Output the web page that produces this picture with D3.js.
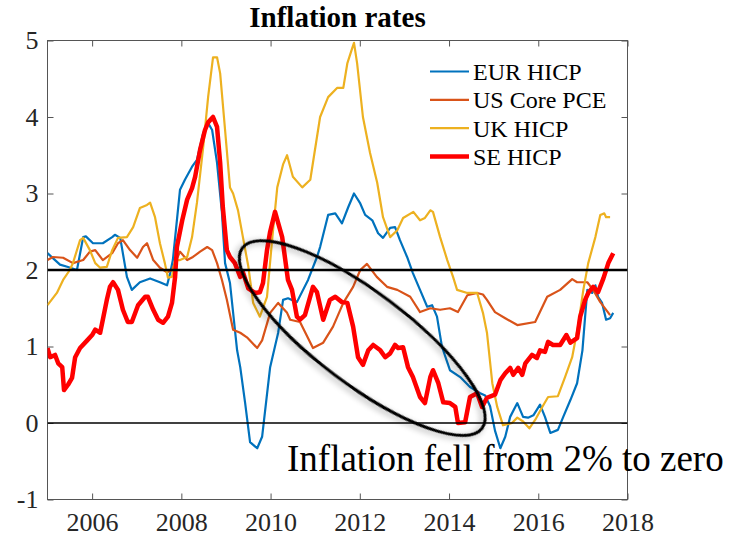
<!DOCTYPE html>
<html>
<head>
<meta charset="utf-8">
<script src="https://cdn.jsdelivr.net/npm/d3@7"></script>
<style>
  body { margin: 0; background: #fff; }
  text { font-family: "Liberation Serif", "Times New Roman", serif; }
</style>
</head>
<body>
<div id="chart"></div>
<script>
// series: [year, percent]
const eurHicp = [[2005.00,2.22],[2005.28,2.07],[2005.46,2.04],[2005.66,2.00],[2005.80,2.43],[2005.86,2.44],[2006.02,2.35],[2006.24,2.35],[2006.45,2.43],[2006.51,2.46],[2006.63,2.42],[2006.78,1.91],[2006.89,1.74],[2007.07,1.84],[2007.30,1.89],[2007.52,1.84],[2007.68,1.80],[2007.75,1.96],[2007.81,2.13],[2007.97,3.05],[2008.08,3.18],[2008.24,3.35],[2008.35,3.44],[2008.49,3.79],[2008.60,3.92],[2008.69,3.83],[2008.80,3.40],[2008.91,2.75],[2008.98,2.09],[2009.09,1.83],[2009.25,0.95],[2009.32,0.73],[2009.43,0.26],[2009.54,-0.25],[2009.70,-0.33],[2009.81,-0.18],[2009.99,0.73],[2010.17,1.18],[2010.28,1.61],[2010.39,1.63],[2010.59,1.58],[2010.84,1.87],[2011.04,2.17],[2011.11,2.30],[2011.29,2.72],[2011.45,2.74],[2011.60,2.61],[2011.74,2.82],[2011.87,3.00],[2012.01,2.87],[2012.12,2.72],[2012.28,2.65],[2012.41,2.48],[2012.52,2.42],[2012.68,2.55],[2012.79,2.56],[2012.90,2.39],[2013.06,2.17],[2013.19,1.96],[2013.35,1.74],[2013.51,1.52],[2013.62,1.54],[2013.73,1.39],[2013.84,1.00],[2014.02,0.69],[2014.25,0.60],[2014.47,0.47],[2014.70,0.39],[2014.81,0.36],[2014.92,0.22],[2015.03,-0.10],[2015.15,-0.33],[2015.26,-0.18],[2015.37,0.08],[2015.53,0.26],[2015.66,0.08],[2015.77,0.07],[2015.89,0.10],[2016.04,0.24],[2016.15,0.08],[2016.27,-0.13],[2016.44,-0.09],[2016.56,0.08],[2016.72,0.30],[2016.87,0.52],[2016.99,0.95],[2017.05,1.39],[2017.10,1.74],[2017.21,1.70],[2017.28,1.80],[2017.34,1.65],[2017.43,1.57],[2017.52,1.35],[2017.61,1.37],[2017.68,1.44]]

const usCorePce = [[2005.00,2.13],[2005.12,2.17],[2005.35,2.16],[2005.57,2.09],[2005.80,2.13],[2005.95,2.24],[2006.07,2.26],[2006.24,2.13],[2006.45,2.22],[2006.58,2.35],[2006.69,2.39],[2006.85,2.26],[2007.01,2.16],[2007.14,2.30],[2007.23,2.35],[2007.37,2.13],[2007.52,2.03],[2007.68,1.97],[2007.79,2.00],[2007.97,2.24],[2008.13,2.13],[2008.26,2.17],[2008.42,2.24],[2008.58,2.30],[2008.69,2.26],[2008.80,2.09],[2008.91,1.87],[2009.02,1.61],[2009.16,1.22],[2009.32,1.18],[2009.47,1.12],[2009.70,0.98],[2009.81,1.08],[2009.99,1.44],[2010.17,1.57],[2010.37,1.44],[2010.44,1.35],[2010.66,1.32],[2010.95,0.98],[2011.18,1.05],[2011.40,1.26],[2011.63,1.57],[2011.85,1.78],[2012.01,2.00],[2012.16,2.08],[2012.38,1.91],[2012.61,1.78],[2012.84,1.74],[2013.13,1.65],[2013.35,1.45],[2013.58,1.50],[2013.80,1.48],[2014.02,1.50],[2014.20,1.45],[2014.41,1.67],[2014.63,1.70],[2014.76,1.68],[2014.85,1.61],[2015.03,1.45],[2015.26,1.37],[2015.53,1.28],[2015.93,1.32],[2016.20,1.65],[2016.49,1.74],[2016.76,1.88],[2016.87,1.84],[2017.10,1.84],[2017.23,1.74],[2017.39,1.58],[2017.61,1.41]]

const ukHicp = [[2005.00,1.54],[2005.21,1.70],[2005.35,1.87],[2005.50,2.00],[2005.57,2.09],[2005.73,2.39],[2005.80,2.42],[2005.95,2.26],[2006.07,2.09],[2006.18,2.03],[2006.33,2.04],[2006.45,2.26],[2006.58,2.42],[2006.78,2.43],[2006.92,2.56],[2007.07,2.81],[2007.23,2.85],[2007.30,2.88],[2007.41,2.69],[2007.52,2.35],[2007.63,2.09],[2007.70,1.90],[2007.79,1.91],[2007.86,2.13],[2007.97,2.13],[2008.13,2.17],[2008.24,2.43],[2008.35,2.88],[2008.49,3.61],[2008.60,4.26],[2008.71,4.78],[2008.80,4.78],[2008.87,4.57],[2008.98,3.83],[2009.09,3.08],[2009.16,3.00],[2009.27,2.78],[2009.38,2.43],[2009.50,2.05],[2009.61,1.57],[2009.76,1.39],[2009.92,1.65],[2010.04,2.43],[2010.15,3.08],[2010.28,3.38],[2010.37,3.50],[2010.50,3.22],[2010.71,3.08],[2010.89,3.18],[2011.11,4.00],[2011.29,4.26],[2011.49,4.38],[2011.63,4.38],[2011.72,4.70],[2011.83,4.90],[2011.87,4.97],[2011.94,4.70],[2012.07,4.00],[2012.23,3.53],[2012.39,3.14],[2012.52,2.69],[2012.68,2.43],[2012.84,2.52],[2012.97,2.68],[2013.20,2.76],[2013.35,2.65],[2013.46,2.68],[2013.58,2.78],[2013.64,2.76],[2013.80,2.43],[2013.96,2.13],[2014.09,1.91],[2014.18,1.74],[2014.41,1.70],[2014.63,1.70],[2014.76,1.44],[2014.85,1.18],[2014.97,0.52],[2015.08,0.21],[2015.21,-0.03],[2015.41,0.00],[2015.53,0.07],[2015.66,0.02],[2015.80,-0.07],[2015.93,0.04],[2016.09,0.21],[2016.22,0.34],[2016.44,0.35],[2016.60,0.60],[2016.76,0.86],[2016.89,1.26],[2017.01,1.74],[2017.12,2.09],[2017.28,2.43],[2017.39,2.72],[2017.48,2.74],[2017.52,2.69],[2017.61,2.69]]

const seHicp = [[2005.00,0.98],[2005.06,0.86],[2005.17,0.89],[2005.24,0.78],[2005.33,0.73],[2005.37,0.43],[2005.46,0.50],[2005.55,0.59],[2005.62,0.86],[2005.73,0.98],[2005.89,1.08],[2006.00,1.15],[2006.07,1.22],[2006.18,1.18],[2006.24,1.35],[2006.33,1.61],[2006.40,1.78],[2006.47,1.84],[2006.58,1.74],[2006.69,1.48],[2006.80,1.32],[2006.89,1.32],[2007.03,1.54],[2007.19,1.65],[2007.25,1.65],[2007.37,1.48],[2007.48,1.35],[2007.59,1.31],[2007.70,1.39],[2007.79,1.57],[2007.86,1.91],[2007.90,2.30],[2008.02,2.65],[2008.13,2.92],[2008.24,3.07],[2008.31,3.22],[2008.42,3.57],[2008.53,3.83],[2008.60,3.93],[2008.71,4.00],[2008.80,3.87],[2008.87,3.40],[2008.93,2.82],[2009.02,2.26],[2009.09,2.17],[2009.20,2.09],[2009.32,1.91],[2009.38,1.97],[2009.50,1.76],[2009.65,1.70],[2009.76,1.71],[2009.83,1.83],[2009.92,2.26],[2009.99,2.50],[2010.10,2.76],[2010.26,2.43],[2010.39,1.87],[2010.48,1.74],[2010.59,1.39],[2010.66,1.35],[2010.77,1.41],[2010.95,1.78],[2011.04,1.71],[2011.18,1.35],[2011.33,1.61],[2011.45,1.65],[2011.60,1.58],[2011.72,1.57],[2011.85,1.26],[2011.96,0.86],[2012.07,0.76],[2012.19,0.95],[2012.30,1.02],[2012.46,0.95],[2012.57,0.86],[2012.68,0.91],[2012.79,1.02],[2012.86,0.98],[2012.97,0.99],[2013.08,0.73],[2013.19,0.60],[2013.35,0.34],[2013.46,0.26],[2013.58,0.60],[2013.64,0.69],[2013.76,0.52],[2013.87,0.27],[2014.02,0.26],[2014.14,0.21],[2014.20,0.00],[2014.36,0.01],[2014.47,0.34],[2014.63,0.39],[2014.74,0.21],[2014.85,0.33],[2015.03,0.37],[2015.15,0.56],[2015.26,0.65],[2015.37,0.72],[2015.44,0.63],[2015.55,0.72],[2015.64,0.63],[2015.71,0.78],[2015.86,0.89],[2015.97,0.85],[2016.04,0.95],[2016.15,0.93],[2016.22,1.06],[2016.33,1.02],[2016.49,1.02],[2016.63,1.15],[2016.72,1.05],[2016.87,1.11],[2016.94,1.39],[2017.05,1.61],[2017.12,1.70],[2017.23,1.78],[2017.34,1.71],[2017.46,1.89],[2017.57,2.09],[2017.68,2.22]]

const seriesNames = ['EUR HICP', 'US Core PCE', 'UK HICP', 'SE HICP']
const xTicks = [2006, 2008, 2010, 2012, 2014, 2016, 2018]
const yTicks = [-1, 0, 1, 2, 3, 4, 5]
const targetLine = 2
// ellipse: ends of the long axis in data units
const ellipseEnds = [[2009.37, 2.29], [2014.74, -0.07]]
const noteText = 'Inflation fell from 2% to zero'

const width = 732, height = 536
const plot = {left: 47.5, right: 627.5, top: 40.5, bottom: 499.5}

const x = d3.scaleLinear().domain([2005, 2018]).range([plot.left, plot.right])
const y = d3.scaleLinear().domain([-1, 5]).range([plot.bottom, plot.top])

const colors = ['#0072BD', '#D95319', '#EDB120', '#FF0000']
const widths = [2.2, 2.2, 2.2, 4.5]
const allSeries = [eurHicp, usCorePce, ukHicp, seHicp]

const svg = d3.select('#chart').append('svg')
    .attr('width', width)
    .attr('height', height)

// shadow for the ellipse
const defs = svg.append('defs')
defs.append('filter').attr('id', 'shadow')
    .attr('x', '-20%').attr('y', '-20%').attr('width', '140%').attr('height', '140%')
  .append('feDropShadow')
    .attr('dx', -1).attr('dy', 3)
    .attr('stdDeviation', 3)
    .attr('flood-color', '#000')
    .attr('flood-opacity', 0.35)

defs.append('clipPath').attr('id', 'clip')
  .append('rect')
    .attr('x', plot.left).attr('y', plot.top)
    .attr('width', plot.right - plot.left)
    .attr('height', plot.bottom - plot.top)

// title
svg.append('text')
    .attr('x', (plot.left + plot.right) / 2)
    .attr('y', 27)
    .attr('text-anchor', 'middle')
    .style('font-size', '29px')
    .style('font-weight', 'bold')
    .text('Inflation rates')

// axes (ticks point inwards like matlab)
const axisColor = '#555'
const labelColor = '#262626'

const xAxis = svg.append('g')
    .attr('transform', `translate(0,${plot.bottom})`)
    .call(d3.axisBottom(x).tickValues(xTicks).tickSize(-6).tickPadding(13).tickFormat(d => d))
const xTop = svg.append('g')
    .attr('transform', `translate(0,${plot.top})`)
    .call(d3.axisTop(x).tickValues(xTicks).tickSize(-6).tickFormat(''))
const yAxis = svg.append('g')
    .attr('transform', `translate(${plot.left},0)`)
    .call(d3.axisLeft(y).tickValues(yTicks).tickSize(-6).tickPadding(9).tickFormat(d => d))
const yRight = svg.append('g')
    .attr('transform', `translate(${plot.right},0)`)
    .call(d3.axisRight(y).tickValues(yTicks).tickSize(-6).tickFormat(''))

;[xAxis, xTop, yAxis, yRight].forEach(g => {
    g.select('.domain').remove()
    g.selectAll('line').attr('stroke', axisColor)
    g.selectAll('text')
        .attr('fill', labelColor)
        .style('font-family', '"Liberation Serif", "Times New Roman", serif')
        .style('font-size', '26px')
})

svg.append('rect')
    .attr('x', plot.left).attr('y', plot.top)
    .attr('width', plot.right - plot.left)
    .attr('height', plot.bottom - plot.top)
    .attr('fill', 'none')
    .attr('stroke', axisColor)
    .attr('stroke-width', 1)

const line = d3.line()
    .x(d => x(d[0]))
    .y(d => y(d[1]))

const lines = svg.append('g').attr('clip-path', 'url(#clip)')

allSeries.forEach((s, i) => {
    lines.append('path')
        .datum(s)
        .attr('d', line)
        .attr('fill', 'none')
        .attr('stroke', colors[i])
        .attr('stroke-width', widths[i])
        .attr('stroke-linejoin', 'round')
})

// reference lines at 2 and 0
lines.append('line')
    .attr('x1', plot.left).attr('x2', plot.right)
    .attr('y1', y(targetLine)).attr('y2', y(targetLine))
    .attr('stroke', '#000')
    .attr('stroke-width', 2.5)
lines.append('line')
    .attr('x1', plot.left).attr('x2', plot.right)
    .attr('y1', y(0)).attr('y2', y(0))
    .attr('stroke', '#000')
    .attr('stroke-width', 1.5)

// legend
const legend = svg.append('g')
seriesNames.forEach((name, i) => {
    const base = 80 + i * 28.3
    legend.append('line')
        .attr('x1', 430).attr('x2', 469)
        .attr('y1', base - 8.5).attr('y2', base - 8.5)
        .attr('stroke', colors[i])
        .attr('stroke-width', widths[i])
    legend.append('text')
        .attr('x', 473)
        .attr('y', base)
        .style('font-size', '24px')
        .attr('fill', '#000')
        .text(name)
})

// ellipse around the fall
const p0 = [x(ellipseEnds[0][0]), y(ellipseEnds[0][1])]
const p1 = [x(ellipseEnds[1][0]), y(ellipseEnds[1][1])]
const cx = (p0[0] + p1[0]) / 2, cy = (p0[1] + p1[1]) / 2
const rx = Math.hypot(p1[0] - p0[0], p1[1] - p0[1]) / 2
const angle = Math.atan2(p1[1] - p0[1], p1[0] - p0[0]) * 180 / Math.PI

svg.append('ellipse')
    .attr('transform', `translate(${cx},${cy}) rotate(${angle})`)
    .attr('rx', rx)
    .attr('ry', 46)
    .attr('fill', 'none')
    .attr('stroke', '#000')
    .attr('stroke-width', 3)
    .attr('filter', 'url(#shadow)')

svg.append('text')
    .attr('x', 287)
    .attr('y', 471)
    .style('font-size', '37px')
    .attr('fill', '#000')
    .text(noteText)
</script>
</body>
</html>
